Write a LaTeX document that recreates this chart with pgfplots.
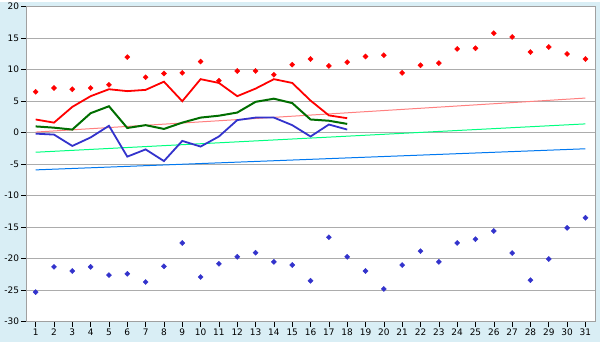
\documentclass[border=0pt]{standalone}
\usepackage{pgfplots}
\pgfplotsset{compat=1.18}
\usepackage{fontspec}
\setmainfont{DejaVu Sans}
\definecolor{bgc}{RGB}{217,238,245}
\definecolor{gridc}{RGB}{172,172,172}
\definecolor{axc}{RGB}{160,160,160}
\definecolor{redl}{RGB}{255,0,0}
\definecolor{greenl}{RGB}{0,110,0}
\definecolor{bluel}{RGB}{51,51,204}
\definecolor{salmon}{RGB}{255,128,128}
\definecolor{lgreen}{RGB}{0,255,128}
\definecolor{lblue}{RGB}{0,120,240}
\begin{document}
\begin{tikzpicture}[x=1bp,y=1bp]
\fill[bgc] (0,0) rectangle (600,340);
\begin{axis}[
  at={(26.5bp,20bp)}, anchor=south west,
  width=569bp, height=315bp, scale only axis,
  xmin=0.5, xmax=31.55, ymin=-30, ymax=20,
  xtick={1,...,31}, ytick={-30,-25,...,20},
  ymajorgrids, grid style={gridc, line width=0.8pt},
  axis line style={axc, line width=0.8pt},
  axis background/.style={fill=white},
  tick style={black, line width=0.6pt},
  major tick length=5bp,
  tick align=outside,
  xtick pos=bottom, ytick pos=left,
  /pgf/number format/assume math mode=true,
  tick label style={font=\fontsize{9}{10}\selectfont},
  yticklabel style={xshift=1bp},
  xticklabel style={yshift=1bp},
  clip=false,
]
% trend lines
\addplot[salmon, line width=1pt] coordinates {(1,0.1) (31,5.5)};
\addplot[lgreen, line width=1pt] coordinates {(1,-3.1) (31,1.4)};
\addplot[lblue, line width=1pt] coordinates {(1,-5.9) (31,-2.55)};
% min temp
\addplot[bluel, line width=1.8pt] coordinates {
(1,-0.15) (2,-0.3) (3,-2.1) (4,-0.75) (5,1.1) (6,-3.8) (7,-2.65) (8,-4.5) (9,-1.3)
(10,-2.2) (11,-0.6) (12,2.0) (13,2.4) (14,2.4) (15,1.2) (16,-0.6) (17,1.3) (18,0.5)};
% mean temp
\addplot[greenl, line width=2pt] coordinates {
(1,1.0) (2,0.8) (3,0.5) (4,3.1) (5,4.2) (6,0.75) (7,1.2) (8,0.6) (9,1.6)
(10,2.4) (11,2.7) (12,3.2) (13,4.9) (14,5.4) (15,4.7) (16,2.1) (17,1.9) (18,1.4)};
% max temp
\addplot[redl, line width=1.8pt] coordinates {
(1,2.1) (2,1.6) (3,4.1) (4,5.8) (5,6.9) (6,6.6) (7,6.8) (8,8.1) (9,5.0)
(10,8.5) (11,7.9) (12,5.8) (13,7.0) (14,8.5) (15,7.9) (16,5.1) (17,2.75) (18,2.3)};
% record max
\addplot[only marks, mark=square*, mark size=1.8bp, redl, mark options={fill=redl, rotate=45}] coordinates {
(1,6.5) (2,7.1) (3,6.9) (4,7.1) (5,7.6) (6,12.0) (7,8.8) (8,9.4) (9,9.5) (10,11.3)
(11,8.25) (12,9.8) (13,9.8) (14,9.2) (15,10.8) (16,11.7) (17,10.6) (18,11.2) (19,12.1) (20,12.3)
(21,9.5) (22,10.7) (23,11.05) (24,13.3) (25,13.4) (26,15.8) (27,15.2) (28,12.8) (29,13.6) (30,12.5) (31,11.7)};
% record min
\addplot[only marks, mark=square*, mark size=1.8bp, bluel, mark options={fill=bluel, rotate=45}] coordinates {
(1,-25.3) (2,-21.3) (3,-21.95) (4,-21.3) (5,-22.6) (6,-22.4) (7,-23.7) (8,-21.2) (9,-17.5) (10,-22.9)
(11,-20.8) (12,-19.7) (13,-19.05) (14,-20.5) (15,-21.0) (16,-23.5) (17,-16.6) (18,-19.7) (19,-21.95) (20,-24.8)
(21,-21.0) (22,-18.8) (23,-20.5) (24,-17.5) (25,-16.9) (26,-15.6) (27,-19.1) (28,-23.4) (29,-20.05) (30,-15.1) (31,-13.5)};
\end{axis}
\end{tikzpicture}
\end{document}
